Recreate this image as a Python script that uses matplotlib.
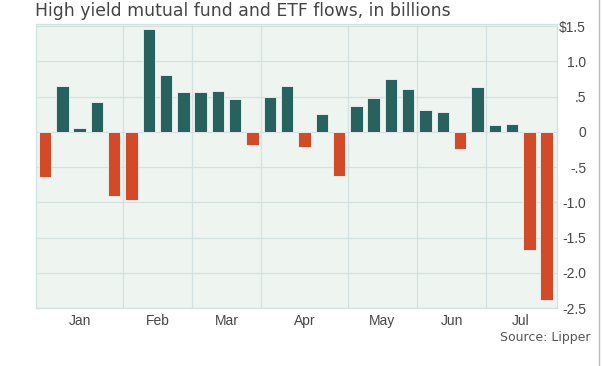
import matplotlib
matplotlib.use("Agg")
import matplotlib.pyplot as plt

# ── data ───────────────────────────────────────────────────────────────────
flows = [
    -0.64, 0.65, 0.06, 0.43, -0.91,
    -0.97, 1.46, 0.81, 0.57,
    0.57, 0.585, 0.46, -0.19,
    0.50, 0.65, -0.22, 0.255, -0.63,
    0.37, 0.48, 0.75, 0.61,
    0.31, 0.28, -0.24, 0.63,
    0.095, 0.11, -1.68, -2.38,
]
month_labels = ["Jan", "Feb", "Mar", "Apr", "May", "Jun", "Jul"]
month_centers = [2, 6.5, 10.5, 15, 19.5, 23.5, 27.5]
month_breaks = [4.5, 8.5, 12.5, 17.5, 21.5, 25.5]
y_ticks = [1.5, 1.0, 0.5, 0, -0.5, -1.0, -1.5, -2.0, -2.5]
y_labels = ["$1.5", "1.0", ".5", "0", "-.5", "-1.0", "-1.5", "-2.0", "-2.5"]

# ── style ──────────────────────────────────────────────────────────────────
POS_COLOR = "#27625f"
NEG_COLOR = "#d24a28"
BG_COLOR = "#eef5f1"
GRID_COLOR = "#d3e2e1"
TICK_FONT = ["Liberation Sans", "DejaVu Sans"]

fig = plt.figure(figsize=(6.02, 3.66), dpi=100)
ax = fig.add_axes([36 / 602, 1 - 308 / 366, (557 - 36) / 602, (308 - 24) / 366])
ax.set_facecolor(BG_COLOR)

x = list(range(len(flows)))
colors = [POS_COLOR if v >= 0 else NEG_COLOR for v in flows]
ax.bar(x, flows, width=0.72, color=colors, edgecolor="#f4f4f4",
       linewidth=0.6, zorder=3)

ax.set_xlim(-0.52, 29.6)
ax.set_ylim(-2.5, 1.53)

for yv in y_ticks:
    ax.axhline(yv, color=GRID_COLOR, linewidth=0.9, zorder=1)
for xv in month_breaks:
    ax.axvline(xv, color=GRID_COLOR, linewidth=0.9, zorder=1)

for s in ax.spines.values():
    s.set_color(GRID_COLOR)
    s.set_linewidth(0.9)

ax.yaxis.tick_right()
ax.set_yticks(y_ticks)
ax.set_yticklabels(y_labels, family=TICK_FONT, fontsize=10, color="#474747",
                   ha="right")
ax.tick_params(axis="y", length=0, pad=21)

ax.set_xticks(month_centers)
ax.set_xticklabels(month_labels, family=TICK_FONT, fontsize=10, color="#474747")
ax.tick_params(axis="x", length=0, pad=4)

fig.text(35 / 602, 1 - 1.5 / 366, "High yield mutual fund and ETF flows, in billions",
         ha="left", va="top", fontsize=12.4, color="#444444", family="DejaVu Sans")
fig.text(590 / 602, 1 - 337 / 366, "Source: Lipper", ha="right", va="center",
         fontsize=9, color="#555555", family="DejaVu Sans")

# thin frame line on the right edge
fig.add_artist(plt.Line2D([598.5 / 602, 598.5 / 602], [0, 1],
                          transform=fig.transFigure, color="#bbbbbb", linewidth=1))

fig.savefig("out.png", dpi=100)
